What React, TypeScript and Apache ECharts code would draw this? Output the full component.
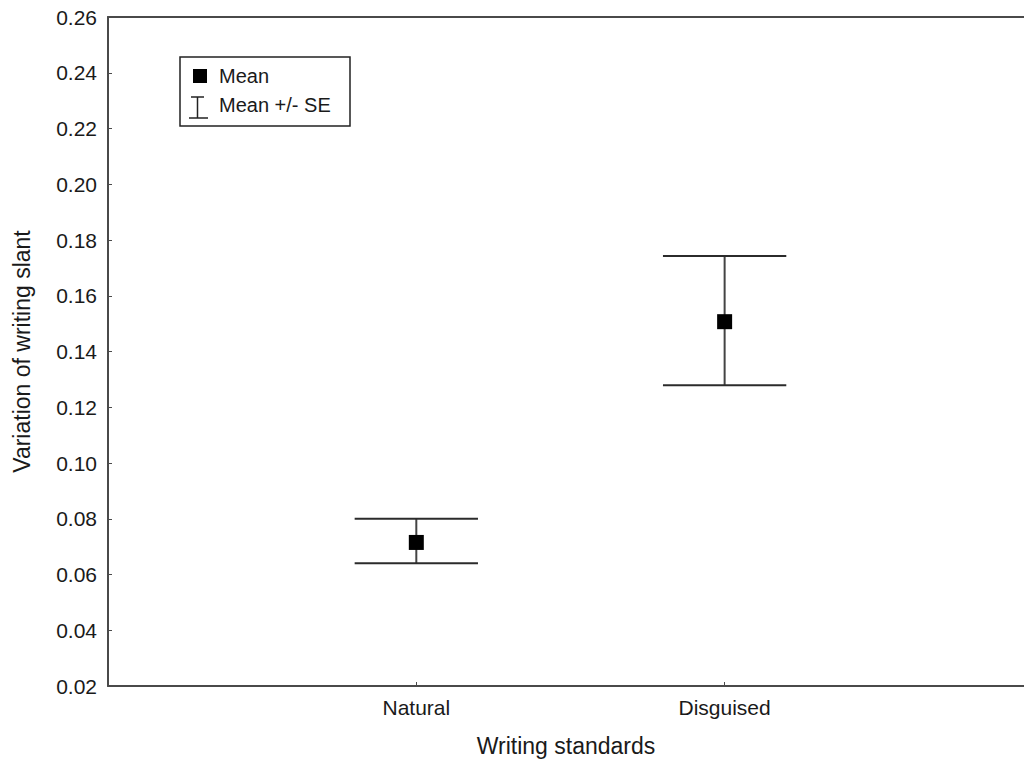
import React, { useEffect, useRef } from "react";
import * as echarts from "echarts";

const categories = ["Natural", "Disguised"];
const means = [0.0715, 0.1507];
const upperSE = [0.08, 0.1743];
const lowerSE = [0.064, 0.1279];
const yTicks = { min: 0.02, max: 0.26, interval: 0.02 };
// the original plot frame is cut off at the right edge (full range 0..3)
const xVisibleMax = 2.971;

const FONT = "'Liberation Sans', Arial, Helvetica, sans-serif";

export default function App() {
  const ref = useRef<HTMLDivElement>(null);
  useEffect(() => {
    if (!ref.current) return;
    const chart = echarts.init(ref.current, undefined, { renderer: "svg" });
    const catPos = categories.map((_, i) => i + 1);
    const axisLine = { show: true, lineStyle: { color: "#4a4a4a", width: 2 } };
    const option: any = {
      animation: false,
      backgroundColor: "#ffffff",
      textStyle: { fontFamily: FONT },
      grid: {
        left: 108,
        right: 0,
        top: 17,
        bottom: 78,
        show: false,
      },
      xAxis: [
        {
          type: "value",
          position: "bottom",
          min: 0,
          max: xVisibleMax,
          interval: 1,
          name: "Writing standards",
          nameLocation: "middle",
          nameGap: 48,
          nameTextStyle: { fontSize: 23, color: "#1a1a1a", fontFamily: FONT },
          axisLine,
          axisTick: { show: true, inside: true, length: 4, lineStyle: { color: "#4a4a4a", width: 1 } },
          axisLabel: {
            fontSize: 21,
            color: "#1a1a1a",
            margin: 11,
            fontFamily: FONT,
            showMaxLabel: false,
            formatter: (v: number) => (Number.isInteger(v) ? categories[v - 1] ?? "" : ""),
          },
          splitLine: { show: false },
        },
        {
          type: "value",
          position: "top",
          min: 0,
          max: xVisibleMax,
          axisLine,
          axisTick: { show: false },
          axisLabel: { show: false },
          splitLine: { show: false },
        },
      ],
      yAxis: {
        type: "value",
        min: yTicks.min,
        max: yTicks.max,
        interval: yTicks.interval,
        name: "Variation of writing slant",
        nameLocation: "middle",
        nameGap: 75,
        nameTextStyle: { fontSize: 23, color: "#1a1a1a", fontFamily: FONT },
        axisLine,
        axisTick: { show: true, inside: true, length: 4, lineStyle: { color: "#4a4a4a", width: 1 } },
        axisLabel: {
          fontSize: 21,
          color: "#1a1a1a",
          margin: 11,
          fontFamily: FONT,
          formatter: (v: number) => v.toFixed(2),
        },
        splitLine: { show: false },
      },
      series: [
        {
          type: "custom",
          name: "Mean +/- SE",
          xAxisIndex: 0,
          data: catPos.map((x, i) => [x, lowerSE[i], upperSE[i]]),
          renderItem: (params: any, api: any) => {
            const x = api.value(0);
            const lo = api.coord([x, api.value(1)]);
            const hi = api.coord([x, api.value(2)]);
            const half = api.size([0.2, 0])[0];
            const style = { stroke: "#2b2b2b", lineWidth: 2 };
            return {
              type: "group",
              children: [
                { type: "line", shape: { x1: lo[0], y1: lo[1], x2: hi[0], y2: hi[1] }, style: { stroke: "#444", lineWidth: 2 } },
                { type: "line", shape: { x1: hi[0] - half, y1: hi[1], x2: hi[0] + half, y2: hi[1] }, style },
                { type: "line", shape: { x1: lo[0] - half, y1: lo[1], x2: lo[0] + half, y2: lo[1] }, style },
              ],
            };
          },
          z: 2,
        },
        {
          type: "scatter",
          name: "Mean",
          xAxisIndex: 0,
          symbol: "rect",
          symbolSize: 15,
          itemStyle: { color: "#000000", opacity: 1 },
          data: catPos.map((x, i) => [x, means[i]]),
          z: 3,
        },
      ],
      graphic: [
        {
          type: "rect",
          shape: { x: 180, y: 57, width: 170, height: 69 },
          style: { fill: "#ffffff", stroke: "#222", lineWidth: 1.5 },
        },
        {
          type: "rect",
          shape: { x: 193, y: 69, width: 14, height: 14 },
          style: { fill: "#000" },
        },
        {
          type: "text",
          x: 219,
          y: 76,
          style: { text: "Mean", fontSize: 20, fontFamily: FONT, fill: "#1a1a1a", verticalAlign: "middle", align: "left" },
        },
        { type: "line", shape: { x1: 191, y1: 97, x2: 204, y2: 97 }, style: { stroke: "#222", lineWidth: 1.5 } },
        { type: "line", shape: { x1: 197.5, y1: 97, x2: 197.5, y2: 118 }, style: { stroke: "#222", lineWidth: 1.5 } },
        { type: "line", shape: { x1: 189, y1: 118, x2: 208, y2: 118 }, style: { stroke: "#222", lineWidth: 1.5 } },
        {
          type: "text",
          x: 219,
          y: 105,
          style: { text: "Mean +/- SE", fontSize: 20, fontFamily: FONT, fill: "#1a1a1a", verticalAlign: "middle", align: "left" },
        },
      ],
    };
    chart.setOption(option);
    return () => chart.dispose();
  }, []);
  return (
    <div
      ref={ref}
      style={{ position: "fixed", left: 0, top: 0, width: 1024, height: 764, background: "#fff" }}
    />
  );
}
